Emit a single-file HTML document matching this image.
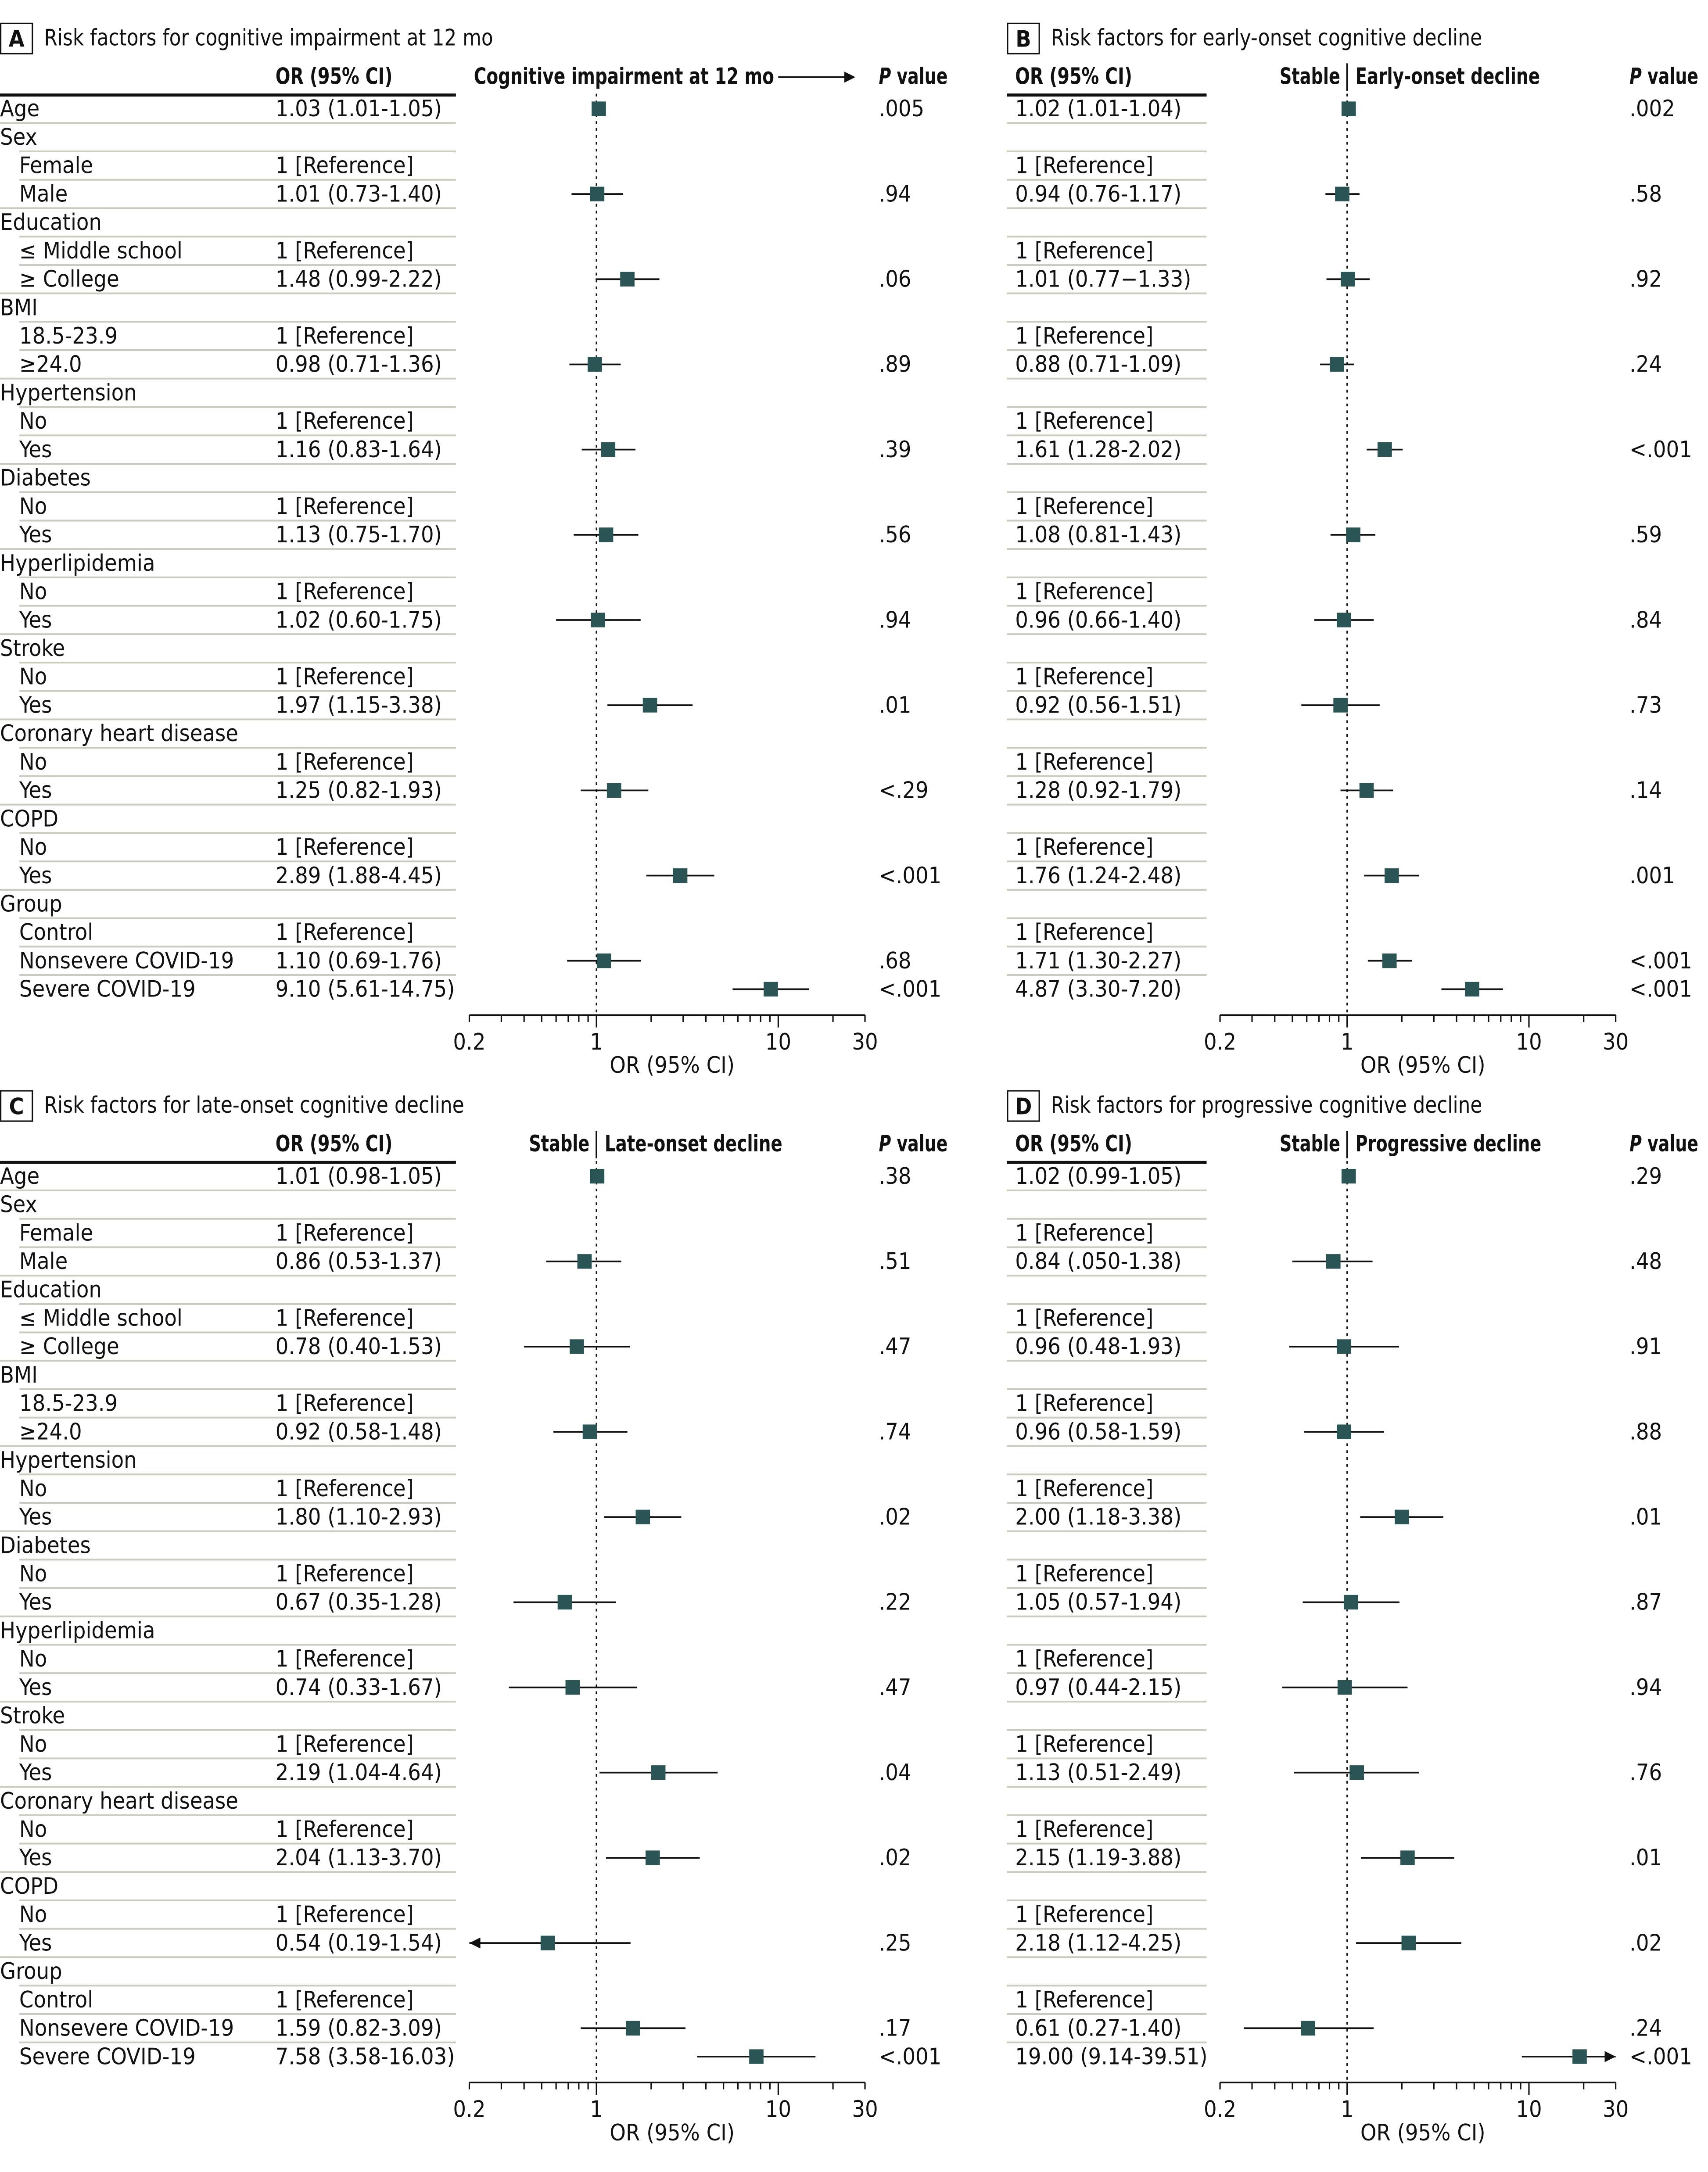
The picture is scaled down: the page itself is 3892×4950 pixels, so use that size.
<!DOCTYPE html>
<html><head><meta charset="utf-8">
<style>
html,body{margin:0;padding:0;background:#fff}
svg{display:block}
text{font-family:"Liberation Sans Narrow","DejaVu Sans Condensed","Liberation Sans",sans-serif;font-size:16.5px;fill:#111}
.b{font-weight:bold}
</style></head>
<body>
<svg id="fig" xmlns="http://www.w3.org/2000/svg" width="3892" height="4950" viewBox="0 0 1240 1577" preserveAspectRatio="none">
<rect x="0" y="0" width="1240" height="1577" fill="#fff"/>
</svg>
<script>
const rowLabels = ["Age","Sex","Female","Male","Education","\u2264 Middle school","\u2265 College","BMI","18.5-23.9","\u226524.0","Hypertension","No","Yes","Diabetes","No","Yes","Hyperlipidemia","No","Yes","Stroke","No","Yes","Coronary heart disease","No","Yes","COPD","No","Yes","Group","Control","Nonsevere COVID-19","Severe COVID-19"];
const rowIndent = [0,0,1,1,0,1,1,0,1,1,0,1,1,0,1,1,0,1,1,0,1,1,0,1,1,0,1,1,0,1,1,1];
const refRows = [2,5,8,11,14,17,20,23,26,29];
const dataRows = [0,3,6,9,12,15,18,21,24,27,30,31];

const orA = [1.03,1.01,1.48,0.98,1.16,1.13,1.02,1.97,1.25,2.89,1.10,9.10];
const loA = [1.01,0.73,0.99,0.71,0.83,0.75,0.60,1.15,0.82,1.88,0.69,5.61];
const hiA = [1.05,1.40,2.22,1.36,1.64,1.70,1.75,3.38,1.93,4.45,1.76,14.75];
const txtA = ["1.03 (1.01-1.05)","1.01 (0.73-1.40)","1.48 (0.99-2.22)","0.98 (0.71-1.36)","1.16 (0.83-1.64)","1.13 (0.75-1.70)","1.02 (0.60-1.75)","1.97 (1.15-3.38)","1.25 (0.82-1.93)","2.89 (1.88-4.45)","1.10 (0.69-1.76)","9.10 (5.61-14.75)"];
const pA = [".005",".94",".06",".89",".39",".56",".94",".01","<.29","<.001",".68","<.001"];

const orB = [1.02,0.94,1.01,0.88,1.61,1.08,0.96,0.92,1.28,1.76,1.71,4.87];
const loB = [1.01,0.76,0.77,0.71,1.28,0.81,0.66,0.56,0.92,1.24,1.30,3.30];
const hiB = [1.04,1.17,1.33,1.09,2.02,1.43,1.40,1.51,1.79,2.48,2.27,7.20];
const txtB = ["1.02 (1.01-1.04)","0.94 (0.76-1.17)","1.01 (0.77\u22121.33)","0.88 (0.71-1.09)","1.61 (1.28-2.02)","1.08 (0.81-1.43)","0.96 (0.66-1.40)","0.92 (0.56-1.51)","1.28 (0.92-1.79)","1.76 (1.24-2.48)","1.71 (1.30-2.27)","4.87 (3.30-7.20)"];
const pB = [".002",".58",".92",".24","<.001",".59",".84",".73",".14",".001","<.001","<.001"];

const orC = [1.01,0.86,0.78,0.92,1.80,0.67,0.74,2.19,2.04,0.54,1.59,7.58];
const loC = [0.98,0.53,0.40,0.58,1.10,0.35,0.33,1.04,1.13,0.19,0.82,3.58];
const hiC = [1.05,1.37,1.53,1.48,2.93,1.28,1.67,4.64,3.70,1.54,3.09,16.03];
const txtC = ["1.01 (0.98-1.05)","0.86 (0.53-1.37)","0.78 (0.40-1.53)","0.92 (0.58-1.48)","1.80 (1.10-2.93)","0.67 (0.35-1.28)","0.74 (0.33-1.67)","2.19 (1.04-4.64)","2.04 (1.13-3.70)","0.54 (0.19-1.54)","1.59 (0.82-3.09)","7.58 (3.58-16.03)"];
const pC = [".38",".51",".47",".74",".02",".22",".47",".04",".02",".25",".17","<.001"];

const orD = [1.02,0.84,0.96,0.96,2.00,1.05,0.97,1.13,2.15,2.18,0.61,19.00];
const loD = [0.99,0.50,0.48,0.58,1.18,0.57,0.44,0.51,1.19,1.12,0.27,9.14];
const hiD = [1.05,1.38,1.93,1.59,3.38,1.94,2.15,2.49,3.88,4.25,1.40,39.51];
const txtD = ["1.02 (0.99-1.05)","0.84 (.050-1.38)","0.96 (0.48-1.93)","0.96 (0.58-1.59)","2.00 (1.18-3.38)","1.05 (0.57-1.94)","0.97 (0.44-2.15)","1.13 (0.51-2.49)","2.15 (1.19-3.88)","2.18 (1.12-4.25)","0.61 (0.27-1.40)","19.00 (9.14-39.51)"];
const pD = [".29",".48",".91",".88",".01",".87",".94",".76",".01",".02",".24","<.001"];

const axisTicks = [0.2,1,10,30];
const axisTickLabels = ["0.2","1","10","30"];
const minorTicks = [0.3,0.4,0.5,0.6,0.7,0.8,0.9,2,3,4,5,6,7,8,9,20];

const svg = document.getElementById('fig');
const NS = 'http://www.w3.org/2000/svg';
function mk(tag, attrs, parent){
  const e = document.createElementNS(NS, tag);
  for (const k in attrs) e.setAttribute(k, attrs[k]);
  (parent||svg).appendChild(e);
  return e;
}
function txt(x,y,s,parent,cls,anchor,len){
  const t = mk('text',{x:x,y:y},parent);
  if(cls) t.setAttribute('class',cls);
  if(anchor) t.setAttribute('text-anchor',anchor);
  if(len){ t.setAttribute('textLength',len); t.setAttribute('lengthAdjust','spacingAndGlyphs'); }
  t.textContent = s;
  return t;
}

const panels = [
  {id:'a', letter:'A', title:'Risk factors for cognitive impairment at 12 mo', tlen:326, dy:0, labels:true, tx0:0, tx1:331, valX:200, boxX:0, x1:433, pX:638, or:orA, lo:loA, hi:hiA, txt:txtA, p:pA, header:'arrow', hdr:'Cognitive impairment at 12 mo', hlen:218},
  {id:'b', letter:'B', title:'Risk factors for early-onset cognitive decline', tlen:313, dy:0, labels:false, tx0:731, tx1:876, valX:737, boxX:731, x1:978, pX:1183, or:orB, lo:loB, hi:hiB, txt:txtB, p:pB, header:'split', hdr:'Early-onset decline', hlen:134},
  {id:'c', letter:'C', title:'Risk factors for late-onset cognitive decline', tlen:305, dy:775, labels:true, tx0:0, tx1:331, valX:200, boxX:0, x1:433, pX:638, or:orC, lo:loC, hi:hiC, txt:txtC, p:pC, header:'split', hdr:'Late-onset decline', hlen:129},
  {id:'d', letter:'D', title:'Risk factors for progressive cognitive decline', tlen:313, dy:775, labels:false, tx0:731, tx1:876, valX:737, boxX:731, x1:978, pX:1183, or:orD, lo:loD, hi:hiD, txt:txtD, p:pD, header:'split', hdr:'Progressive decline', hlen:135}
];
const DEC = 132, XMIN = 0.2, XMAX = 30;
const rowY = i => 79 + i*20.62;

panels.forEach(P => {
  const g = mk('g',{});
  
  
  const dy = P.dy;
  const xs = v => P.x1 + Math.log10(v)*DEC;

  const box = mk('rect',{x:P.boxX+0.5,y:17+dy,width:23,height:22,fill:'none',stroke:'#111','stroke-width':1},g);
  
  
  const lt = txt(P.boxX+12,34+dy,P.letter,g,'b','middle');
  
  
  const tt = txt(P.boxX+32,33+dy,P.title,g,null,null,P.tlen);
  
  

  const h1 = txt(P.valX,61+dy,'OR (95% CI)',g,'b',null,85);
  
  
  const ph = mk('text',{x:P.pX,y:61+dy,class:'b',textLength:50,lengthAdjust:'spacingAndGlyphs'},g);
  
  
  const pi = mk('tspan',{'font-style':'italic'},ph); pi.textContent='P';
  const pv = mk('tspan',{},ph); pv.textContent=' value';
  if (P.header === 'arrow') {
    const h2 = txt(344,61+dy,P.hdr,g,'b',null,P.hlen);
    
    
    const al = mk('line',{x1:565,y1:56+dy,x2:615,y2:56+dy,stroke:'#111','stroke-width':1.2},g);
    
    
    mk('path',{d:`M621 ${56+dy} L613 ${52+dy} L613 ${60+dy} Z`,fill:'#111'},g);
  } else {
    const s = txt(P.x1-5,61+dy,'Stable',g,'b','end',44);
    
    
    const dv = mk('line',{x1:P.x1,y1:46+dy,x2:P.x1,y2:66+dy,stroke:'#111','stroke-width':1.2},g);
    
    
    const d2 = txt(P.x1+6,61+dy,P.hdr,g,'b',null,P.hlen);
    
    
  }
  const hl = mk('line',{x1:P.tx0,y1:69+dy,x2:P.tx1,y2:69+dy,stroke:'#111','stroke-width':2.2},g);
  
  

  rowLabels.forEach((lab,i) => {
    const y = rowY(i)+dy;
    if (P.labels) {
      const t = txt(rowIndent[i]?14:0, y+5.5, lab, g);
      
      
    }
    if (i < rowLabels.length-1) {
      const x0 = P.labels ? (rowIndent[i+1]?14:0) : P.tx0;
      const sl = mk('line',{x1:x0,y1:y+10.3,x2:P.tx1,y2:y+10.3,stroke:'#c9ccbf','stroke-width':1.3},g);
      
      
    }
  });
  refRows.forEach(i => {
    const t = txt(P.valX, rowY(i)+dy+5.5, '1 [Reference]', g);
    
    
  });

  const rl = mk('line',{x1:P.x1,y1:68+dy,x2:P.x1,y2:737+dy,stroke:'#111','stroke-width':1,'stroke-dasharray':'2,3'},g);
  
  

  dataRows.forEach((ri,k) => {
    const y = rowY(ri)+dy;
    const vt = txt(P.valX, y+5.5, P.txt[k], g);
    
    
    const pt = txt(P.pX, y+5.5, P.p[k], g);
    
    
    const lo = Math.max(P.lo[k], XMIN), hi = Math.min(P.hi[k], XMAX);
    const ci = mk('line',{x1:xs(lo),y1:y,x2:xs(hi),y2:y,stroke:'#111','stroke-width':1.2},g);
    
    
    if (P.lo[k] < XMIN) {
      const a = mk('path',{d:`M${xs(XMIN)} ${y} l8 -4 l0 8 Z`,fill:'#111'},g);
      
      
    }
    if (P.hi[k] > XMAX) {
      const a = mk('path',{d:`M${xs(XMAX)} ${y} l-8 -4 l0 8 Z`,fill:'#111'},g);
      
      
    }
    const sq = mk('rect',{x:xs(P.or[k])-5.2,y:y-5.3,width:10.4,height:10.6,fill:'#2b5555'},g);
    
    
  });

  const ay = 737+dy;
  const ax = mk('line',{x1:xs(XMIN),y1:ay,x2:xs(XMAX),y2:ay,stroke:'#111','stroke-width':1.2},g);
  
  
  minorTicks.forEach(v => {
    const t = mk('line',{x1:xs(v),y1:ay,x2:xs(v),y2:ay+5,stroke:'#111','stroke-width':1},g);
    
    
  });
  axisTicks.forEach((v,k) => {
    const len = (v===1||v===10) ? 9 : 5;
    const t = mk('line',{x1:xs(v),y1:ay,x2:xs(v),y2:ay+len,stroke:'#111','stroke-width':1},g);
    
    
    const l = txt(xs(v), ay+25, axisTickLabels[k], g, null, 'middle');
    
    
  });
  const at = txt(P.x1+55, ay+42, 'OR (95% CI)', g, null, 'middle');
  
  
});
</script>
</body></html>
